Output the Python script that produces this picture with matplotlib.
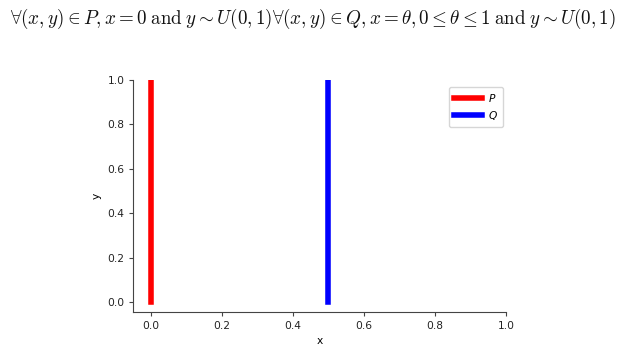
import numpy as np
import matplotlib.pyplot as plt

theta = 0.5
p_x = [0.0, 0.0]
p_y = [0.0, 1.0]
q_x = [theta, theta]
q_y = [0.0, 1.0]
ticks = [0.0, 0.2, 0.4, 0.6, 0.8, 1.0]

plt.rcParams['font.size'] = 7.7
plt.rcParams['axes.edgecolor'] = '#444444'
plt.rcParams['xtick.color'] = '#444444'
plt.rcParams['ytick.color'] = '#444444'
plt.rcParams['xtick.labelcolor'] = '#222222'
plt.rcParams['ytick.labelcolor'] = '#222222'

fig = plt.figure(figsize=(6.26, 3.52), dpi=100)
ax = fig.add_axes([133/626, 1 - 312/352, (506 - 133)/626, (312 - 80)/352])

ax.plot(p_x, p_y, color='red', lw=4, label='$P$')
ax.plot(q_x, q_y, color='blue', lw=4, label='$Q$')

ax.set_xlim(-0.05, 1.0)
ax.set_ylim(-0.045, 1.0)
ax.set_xticks(ticks)
ax.set_yticks(ticks)
ax.spines['top'].set_visible(False)
ax.spines['right'].set_visible(False)
ax.tick_params(length=2.7, width=0.8)
ax.set_xlabel('x')
ax.set_ylabel('y')
ax.legend(loc='upper right', handlelength=2.6, borderaxespad=0.3,
          bbox_to_anchor=(1.0, 0.985), borderpad=0.45, handletextpad=0.6)

title = (r'$\forall(x,y)\in P, x=0\;\mathrm{and}\;y\sim U(0,1)'
         r'\forall(x,y)\in Q, x=\theta, 0\leq\theta\leq 1\;\mathrm{and}\;y\sim U(0,1)$')
fig.text(0.5, 0.945, title, ha='center', va='center', fontsize=13.7,
         math_fontfamily='cm', color='#111111')

fig.savefig('out.png', dpi=100)
